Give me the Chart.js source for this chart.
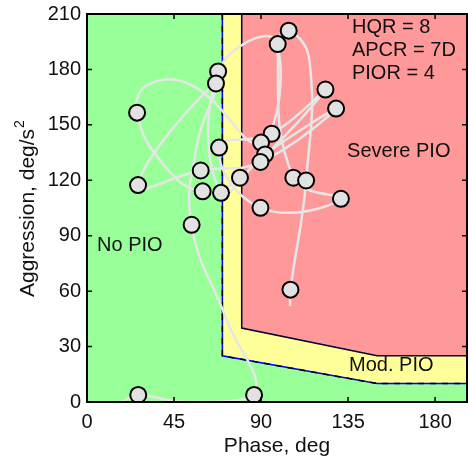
<!DOCTYPE html>
<html>

<head>
    <meta name="viewport" content="width=device-width, initial-scale=1.0">
    <title>PIO chart</title>
    <script src="https://cdn.jsdelivr.net/npm/chart.js"></script>
</head>

<body style="margin: 0; background-color: #FFFFFF;">
    <div class="chart-container" style="position: relative; height: 459px; width: 468px;">
        <canvas id="pioChart"></canvas>
    </div>
</body>

</html>

<script>
    // region boundaries (phase in deg, aggression in deg/s^2)
    var modBoundPhase = [70, 70, 150, 200];
    var modBoundAggr = [210, 25, 10, 10];
    var sevBoundPhase = [80, 80, 150, 200];
    var sevBoundAggr = [210, 40, 25, 25];

    // pilot trajectory
    var pathPhase = [18, 26.5, 50, 86.4, 72, 54.1, 57, 66.7, 26.4, 58.8, 89.7, 128.8, 92.1, 69.3, 67.8, 97, 90, 55, 32, 25.9, 40, 59.8, 79.1, 123.3, 95.5, 68.3, 89.7, 131.3, 106.7, 98.6, 104.3, 115, 113.3, 105.2, 105];
    var pathAggr = [0, 3.8, 0, 3.8, 45, 95.9, 140, 172.4, 117.4, 125.3, 129.9, 158.8, 134, 113.2, 178.9, 196, 140.4, 171, 172, 156.6, 128, 114, 121.4, 169.1, 145.2, 137.7, 105.1, 110, 121.4, 193.7, 201, 185, 119.9, 60.8, 52];

    // peaks (circles)
    var peakPhase = [25.9, 26.4, 67.8, 66.7, 68.3, 69.3, 58.8, 59.8, 79.1, 54.1, 26.5, 86.4, 89.7, 104.3, 98.6, 123.3, 128.8, 95.5, 90, 92.1, 89.7, 106.7, 113.3, 131.3, 105.2];
    var peakAggr = [156.6, 117.4, 178.9, 172.4, 137.7, 113.2, 125.3, 114, 121.4, 95.9, 3.8, 3.8, 105.1, 201, 193.7, 169.1, 158.8, 145.2, 140.4, 134, 129.9, 121.4, 119.9, 110, 60.8];

    var xTicks = [0, 45, 90, 135, 180];
    var yTicks = [0, 30, 60, 90, 120, 150, 180, 210];

    var labelText = ["HQR = 8", "APCR = 7D", "PIOR = 4", "Severe PIO", "No PIO", "Mod. PIO"];
    var labelPhase = [137, 137, 137, 134.5, 5.2, 135.5];
    var labelAggr = [202.8, 190.3, 177.8, 135.5, 84.5, 19.9];

    function pts(xs, ys) {
        return xs.map(function(x, i) { return { x: x, y: ys[i] }; });
    }

    var FONT = "'Liberation Sans', Arial, sans-serif";

    var framePlugin = {
        id: "frame",
        beforeDatasetsDraw: function(chart) {
            var a = chart.chartArea, c = chart.ctx;
            c.save();
            c.fillStyle = "#99FF99";
            c.fillRect(a.left, a.top, a.right - a.left, a.bottom - a.top);
            c.restore();
        },
        afterDraw: function(chart) {
            var a = chart.chartArea, c = chart.ctx;
            var xs = chart.scales.x, ys = chart.scales.y;
            c.save();
            c.strokeStyle = "#000";
            c.lineWidth = 2;
            c.strokeRect(a.left, a.top, a.right - a.left, a.bottom - a.top);
            c.lineWidth = 1.5;
            c.beginPath();
            xTicks.forEach(function(t) {
                var px = xs.getPixelForValue(t);
                c.moveTo(px, a.bottom); c.lineTo(px, a.bottom - 5);
                c.moveTo(px, a.top); c.lineTo(px, a.top + 5);
            });
            yTicks.forEach(function(t) {
                var py = ys.getPixelForValue(t);
                c.moveTo(a.left, py); c.lineTo(a.left + 5, py);
                c.moveTo(a.right, py); c.lineTo(a.right - 5, py);
            });
            c.stroke();
            c.fillStyle = "#111";
            c.font = "20px " + FONT;
            c.textBaseline = "middle";
            c.textAlign = "left";
            labelText.forEach(function(t, i) {
                c.fillText(t, xs.getPixelForValue(labelPhase[i]), ys.getPixelForValue(labelAggr[i]));
            });
            // y axis title with a raised 2
            c.translate(28, 297);
            c.rotate(-Math.PI / 2);
            var main = "Aggression, deg/s";
            c.font = "21px " + FONT;
            c.fillText(main, 0, 0);
            var w = c.measureText(main).width;
            c.font = "14px " + FONT;
            c.fillText("2", w + 1, -8);
            c.restore();
        }
    };

    var ctx = document.getElementById("pioChart").getContext("2d");
    new Chart(ctx, {
        type: "scatter",
        data: {
            datasets: [{
                data: pts(peakPhase, peakAggr),
                order: 1,
                showLine: false,
                pointRadius: 8,
                pointBorderWidth: 2,
                pointBackgroundColor: "#E2E2E2",
                pointBorderColor: "#000000"
            }, {
                data: pts(pathPhase, pathAggr),
                order: 2,
                showLine: true,
                pointRadius: 0,
                borderColor: "#E6E6E6",
                borderWidth: 2.5,
                fill: false,
                tension: 0.45
            }, {
                data: pts(sevBoundPhase, sevBoundAggr),
                order: 3,
                showLine: true,
                pointRadius: 0,
                borderColor: "#000033",
                borderWidth: 1.5,
                backgroundColor: "#FF9999",
                fill: "end",
                tension: 0
            }, {
                data: pts(modBoundPhase, modBoundAggr),
                order: 4,
                showLine: true,
                pointRadius: 0,
                borderColor: "#000000",
                borderWidth: 1.5,
                borderDash: [6, 6],
                fill: false,
                tension: 0
            }, {
                data: pts(modBoundPhase, modBoundAggr),
                order: 5,
                showLine: true,
                pointRadius: 0,
                borderColor: "#0000FF",
                borderWidth: 1.5,
                backgroundColor: "#FFFF99",
                fill: "end",
                tension: 0
            }]
        },
        options: {
            responsive: true,
            maintainAspectRatio: false,
            animation: false,
            events: [],
            layout: { autoPadding: false, padding: { top: 14, right: 1, left: 0, bottom: 0 } },
            plugins: { legend: { display: false }, tooltip: { enabled: false } },
            scales: {
                x: {
                    type: "linear",
                    min: 0,
                    max: 196.5,
                    grid: { display: false, drawTicks: false },
                    border: { display: false },
                    afterFit: function(s) { s.height = 57; s.paddingLeft = 0; s.paddingRight = 0; },
                    ticks: { stepSize: 45, includeBounds: false, color: "#111", padding: 8, maxRotation: 0, font: { family: FONT, size: 20 } },
                    title: { display: true, text: "Phase, deg", color: "#111", padding: { top: 0, bottom: 0 }, font: { family: FONT, size: 21 } }
                },
                y: {
                    type: "linear",
                    min: 0,
                    max: 210,
                    grid: { display: false, drawTicks: false },
                    border: { display: false },
                    afterFit: function(s) { s.width = 87; s.paddingTop = 0; s.paddingBottom = 0; },
                    ticks: { stepSize: 30, color: "#111", padding: 6, font: { family: FONT, size: 20 } },
                    title: { display: false }
                }
            }
        },
        plugins: [framePlugin]
    });
</script>
